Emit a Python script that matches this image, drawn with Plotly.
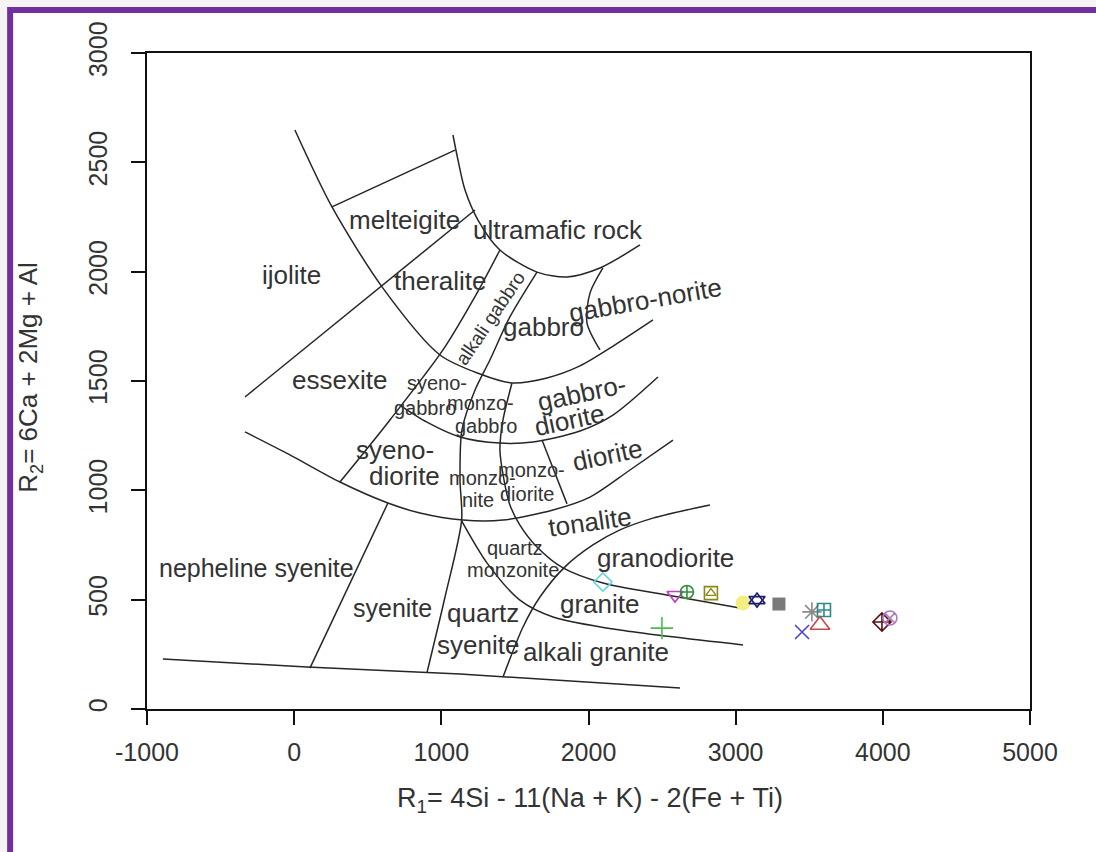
import plotly.graph_objects as go

# ---------------- classification boundaries (R1, R2) ----------------
arc_outer_r1 = [5, 257, 603, 991, 1263, 1480, 1718, 1942, 2180, 2438]
arc_outer_r2 = [2648, 2296, 1925, 1619, 1532, 1491, 1514, 1569, 1665, 1779]
arc_ultramafic_r1 = [1079, 1113, 1161, 1249, 1398, 1650, 1854, 2078, 2350]
arc_ultramafic_r2 = [2625, 2511, 2373, 2236, 2099, 1998, 1976, 2017, 2122]
melteigite_top_r1 = [257, 1093]
melteigite_top_r2 = [2296, 2556]
ijolite_line_r1 = [-334, 1229]
ijolite_line_r2 = [1427, 2282]
alk_gabbro_left_r1 = [311, 651, 1011, 1242, 1398]
alk_gabbro_left_r2 = [1038, 1322, 1642, 1902, 2099]
alk_gabbro_right_r1 = [1650, 1466, 1330, 1229, 1140, 1127, 1138, 1025, 902]
alk_gabbro_right_r2 = [1998, 1793, 1596, 1459, 1276, 1047, 864, 512, 165]
monzo_line_r1 = [1480, 1419, 1398, 1426, 1466, 1534, 1650, 1827, 2098, 2533, 3029]
monzo_line_r2 = [1491, 1322, 1184, 1047, 933, 841, 741, 645, 576, 521, 462]
arc_gabbrodiorite_r1 = [717, 902, 1127, 1398, 1623, 1942, 2166, 2472]
arc_gabbrodiorite_r2 = [1390, 1312, 1244, 1216, 1221, 1271, 1344, 1518]
arc_diorite_r1 = [-334, -29, 311, 637, 855, 1147, 1419, 1759, 2010, 2282, 2574]
arc_diorite_r2 = [1267, 1162, 1038, 942, 896, 864, 864, 910, 969, 1093, 1230]
monzodiorite_line_r1 = [1684, 1854]
monzodiorite_line_r2 = [1230, 938]
tonalite_line_r1 = [1419, 1555, 1670, 1840, 2030, 2214, 2438, 2825]
tonalite_line_r2 = [146, 375, 512, 650, 750, 819, 873, 933]
alkgranite_line_r1 = [1138, 1310, 1534, 1759, 2214, 3050]
alkgranite_line_r2 = [860, 668, 498, 421, 361, 293]
bottom_line_r1 = [-892, 87, 1127, 2622]
bottom_line_r2 = [229, 192, 160, 96]
syenite_line_r1 = [637, 107]
syenite_line_r2 = [942, 187]
norite_line_r1 = [2098, 2010, 1990, 2078]
norite_line_r2 = [2017, 1902, 1765, 1642]

# ---------------- field names ----------------
field_text = ["melteigite", "ultramafic rock", "ijolite", "theralite", "alkali gabbro",
              "gabbro", "gabbro-norite", "essexite", "syeno-", "gabbro", "monzo-", "gabbro",
              "gabbro-", "diorite", "diorite", "syeno-", "diorite", "monzo-", "nite",
              "monzo-", "diorite", "tonalite", "quartz", "monzonite", "granodiorite",
              "nepheline syenite", "syenite", "quartz", "syenite", "granite", "alkali granite"]
field_r1 = [753, 1793, -15, 991, 1330, 1691, 2384, 311, 970, 889, 1263, 1303,
            1956, 1874, 2132, 685, 753, 1283, 1249, 1616, 1582, 2010, 1500, 1487, 2520,
            -253, 665, 1283, 1249, 2078, 2051]
field_r2 = [2236, 2190, 1985, 1957, 1788, 1747, 1870, 1505, 1491, 1376, 1399, 1294,
            1445, 1322, 1162, 1184, 1066, 1056, 956, 1093, 983, 855, 736, 636, 691,
            645, 462, 439, 293, 480, 261]
field_size = [26, 26, 26, 26, 19, 26, 26, 26, 20, 20, 20, 20,
              26, 26, 26, 26, 26, 20, 20, 20, 20, 26, 20, 20, 26,
              25, 25, 26, 26, 26, 26]
field_angle = [0, 0, 0, 0, -56, 0, -10, 0, 0, 0, 0, 0,
               -12, -12, -12, 0, 0, 0, 0, 0, 0, -8, 0, 0, 0,
               0, 0, 0, 0, 0, 0]

# ---------------- samples ----------------
sample_r1 = [2098, 2588, 2669, 2832, 3050, 3145, 3294, 3518, 3600, 3451, 3573, 3994, 4048, 2499]
sample_r2 = [581, 521, 535, 530, 485, 498, 480, 444, 453, 352, 384, 398, 416, 370]
sample_symbol = ["diamond-open", "triangle-down-open", "circle-cross-open", "square-open",
                 "circle", "triangle-up-open", "square", "asterisk-open", "square-cross-open",
                 "x-thin-open", "triangle-up-open", "diamond-cross-open", "circle-x-open",
                 "cross-thin-open"]
sample_color = ["#62d4dc", "#c23fc8", "#2f8f3a", "#8c8a10", "#f3ee80", "#1c1c70",
                "#7a7a7a", "#8a8a8a", "#2a8a8a", "#4646c8", "#c84848", "#5a1018",
                "#b078c0", "#4cbc4c"]
sample_size = [14, 14, 13, 13, 15, 14, 13, 16, 13, 14, 17, 14, 14, 16]

X_TICKS = [-1000, 0, 1000, 2000, 3000, 4000, 5000]
X_TICK_TEXT = ["-1000", "0", "1000", "2000", "3000", "4000", "5000"]
Y_TICKS = [0, 500, 1000, 1500, 2000, 2500, 3000]
Y_TICK_TEXT = ["0", "500", "1000", "1500", "2000", "2500", "3000"]

FONT = "Liberation Sans, Arial, sans-serif"
LINE = dict(color="#262626", width=1.5)

fig = go.Figure()

boundaries = [
    (arc_outer_r1, arc_outer_r2, True),
    (arc_ultramafic_r1, arc_ultramafic_r2, True),
    (melteigite_top_r1, melteigite_top_r2, False),
    (ijolite_line_r1, ijolite_line_r2, False),
    (alk_gabbro_left_r1, alk_gabbro_left_r2, True),
    (alk_gabbro_right_r1, alk_gabbro_right_r2, True),
    (monzo_line_r1, monzo_line_r2, True),
    (arc_gabbrodiorite_r1, arc_gabbrodiorite_r2, True),
    (arc_diorite_r1, arc_diorite_r2, True),
    (monzodiorite_line_r1, monzodiorite_line_r2, False),
    (tonalite_line_r1, tonalite_line_r2, True),
    (alkgranite_line_r1, alkgranite_line_r2, True),
    (bottom_line_r1, bottom_line_r2, True),
    (syenite_line_r1, syenite_line_r2, False),
    (norite_line_r1, norite_line_r2, True),
]
for bx, by, smooth in boundaries:
    fig.add_trace(go.Scatter(
        x=bx, y=by, mode="lines", showlegend=False, hoverinfo="skip",
        line=dict(color=LINE["color"], width=LINE["width"],
                  shape="spline" if smooth else "linear", smoothing=0.8)))

for i in range(len(sample_r1)):
    sym = sample_symbol[i]
    filled = not sym.endswith("open")
    fig.add_trace(go.Scatter(
        x=[sample_r1[i]], y=[sample_r2[i]], mode="markers", showlegend=False,
        marker=dict(symbol=sym, size=sample_size[i], color=sample_color[i],
                    line=dict(color=sample_color[i], width=1.6 if not filled else 0))))

# composite symbols (square with triangle, star of David)
fig.add_trace(go.Scatter(
    x=[sample_r1[3]], y=[sample_r2[3]], mode="markers", showlegend=False,
    marker=dict(symbol="triangle-up-open", size=9, color=sample_color[3],
                line=dict(color=sample_color[3], width=1.4))))
fig.add_trace(go.Scatter(
    x=[sample_r1[5]], y=[sample_r2[5]], mode="markers", showlegend=False,
    marker=dict(symbol="triangle-down-open", size=14, color=sample_color[5],
                line=dict(color=sample_color[5], width=1.6))))

annotations = []
for t, ax_, ay_, s, a in zip(field_text, field_r1, field_r2, field_size, field_angle):
    annotations.append(dict(x=ax_, y=ay_, xref="x", yref="y", text=t, showarrow=False,
                            textangle=a, font=dict(family=FONT, size=s, color="#333333")))

annotations.append(dict(x=0.502, y=-0.139, xref="paper", yref="paper",
                        xanchor="center", yanchor="middle",
                        text="R<sub>1</sub>= 4Si - 11(Na + K) - 2(Fe + Ti)",
                        showarrow=False, font=dict(family=FONT, size=27, color="#333333")))
annotations.append(dict(x=-0.1325, y=0.505, xref="paper", yref="paper",
                        xanchor="center", yanchor="middle",
                        text="R<sub>2</sub>= 6Ca + 2Mg + Al", textangle=-90,
                        showarrow=False, font=dict(family=FONT, size=26, color="#333333")))

fig.update_layout(
    width=1096, height=852,
    margin=dict(l=147, r=66, t=53, b=143),
    paper_bgcolor="#f4f4f4", plot_bgcolor="white",
    font=dict(family=FONT, color="#333333"),
    annotations=annotations,
    shapes=[dict(type="rect", xref="paper", yref="paper",
                 x0=-0.155, x1=1.08, y0=-0.24, y1=1.0655, layer="below",
                 fillcolor="white", line=dict(color="#7030a0", width=6))],
    xaxis=dict(range=[-1000, 5000], tickvals=X_TICKS, ticktext=X_TICK_TEXT,
               showgrid=False, zeroline=False, showline=True, mirror=True,
               linecolor="#111111", linewidth=1.5, ticks="outside", ticklen=14,
               tickwidth=1.5, tickcolor="#111111", ticklabelstandoff=6,
               tickfont=dict(family=FONT, size=25, color="#333333")),
    yaxis=dict(range=[0, 3000], tickvals=Y_TICKS, ticktext=Y_TICK_TEXT,
               showgrid=False, zeroline=False, showline=True, mirror=True,
               linecolor="#111111", linewidth=1.5, ticks="outside", ticklen=14,
               tickwidth=1.5, tickcolor="#111111", tickangle=-90, ticklabelstandoff=14,
               tickfont=dict(family=FONT, size=25, color="#333333")),
)

fig.write_html("out.html")
